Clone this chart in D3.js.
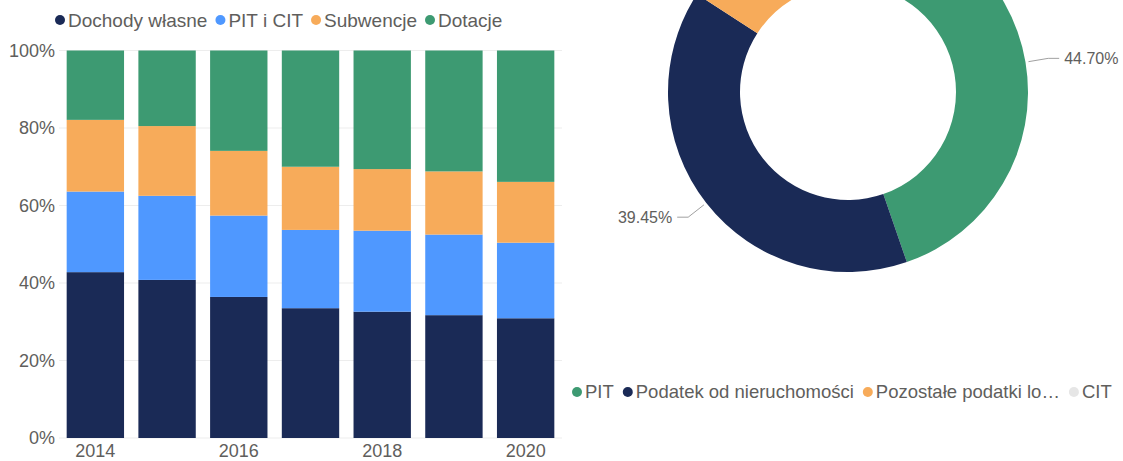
<!DOCTYPE html>
<html>
<head>
<meta charset="utf-8">
<script src="https://cdn.jsdelivr.net/npm/d3@7"></script>
<style>
    body { margin: 0; background: #fff; }
    svg { display: block; font-family: "Liberation Sans", Arial, sans-serif; }
</style>
</head>
<body>
<svg id="chart" width="1123" height="461"></svg>
<script>
// stacked bar data (share of budget income, %)
const years = ["2014", "2015", "2016", "2017", "2018", "2019", "2020"];
const yearTicks = ["2014", "2016", "2018", "2020"];
const barSeries = ["Dochody własne", "PIT i CIT", "Subwencje", "Dotacje"];
const dochodyWlasne = [42.8, 40.8, 36.4, 33.5, 32.6, 31.7, 30.9];
const pitCit = [20.8, 21.7, 21.0, 20.2, 20.9, 20.8, 19.5];
const subwencje = [18.5, 18.0, 16.7, 16.3, 15.9, 16.3, 15.7];
const dotacje = [17.9, 19.5, 25.9, 30.0, 30.6, 31.2, 33.9];
const yTicks = [0, 20, 40, 60, 80, 100];

// donut data (%)
const donutLabels = ["PIT", "Podatek od nieruchomości", "Pozostałe podatki lokalne", "CIT"];
const donutValues = [44.70, 39.45, 14.91, 0.94];

const barColors = ["#1A2A56", "#4F98FF", "#F7AB5A", "#3D9A72"];
const donutColors = ["#3D9A72", "#1A2A56", "#F7AB5A", "#E6E6E6"];
const textColor = "#605E5C";

const svg = d3.select("#chart");

// ---------- stacked bars ----------
const rows = years.map((y, i) => ({
    year: y,
    "Dochody własne": dochodyWlasne[i],
    "PIT i CIT": pitCit[i],
    "Subwencje": subwencje[i],
    "Dotacje": dotacje[i]
}));

const x = d3.scaleBand().domain(years).range([59.5, 561.5]).paddingInner(0.2).paddingOuter(0.1);
const y = d3.scaleLinear().domain([0, 100]).range([438, 50.5]);

// gridlines
svg.append("g")
    .selectAll("line")
    .data(yTicks)
    .join("line")
    .attr("x1", 59).attr("x2", 562)
    .attr("y1", d => y(d)).attr("y2", d => y(d))
    .attr("stroke", "#EDEDED").attr("stroke-width", 1);

const stack = d3.stack().keys(barSeries);
svg.append("g")
    .selectAll("g")
    .data(stack(rows))
    .join("g")
    .attr("fill", (d, i) => barColors[i])
    .selectAll("rect")
    .data(d => d)
    .join("rect")
    .attr("x", d => x(d.data.year))
    .attr("width", x.bandwidth())
    .attr("y", d => y(d[1]))
    .attr("height", d => y(d[0]) - y(d[1]));

// y axis
const yAxis = svg.append("g")
    .attr("transform", "translate(59,0)")
    .call(d3.axisLeft(y).tickValues(yTicks).tickFormat(d => d + "%").tickSize(0).tickPadding(4));
yAxis.select(".domain").remove();
yAxis.selectAll("text").attr("fill", textColor).attr("font-size", 18).attr("font-family", null);

// x axis
const xAxis = svg.append("g")
    .attr("transform", "translate(0,438)")
    .call(d3.axisBottom(x).tickValues(yearTicks).tickSize(0).tickPadding(6));
xAxis.select(".domain").remove();
xAxis.selectAll("text").attr("fill", textColor).attr("font-size", 18).attr("font-family", null);

// legend: dot + text, items laid out left to right
function drawLegend(g, labels, colors, startX, cy, size, gap, maxW) {
    let cx = startX;
    labels.forEach((lab, i) => {
        g.append("circle").attr("cx", cx).attr("cy", cy).attr("r", 5).attr("fill", colors[i]);
        const t = g.append("text")
            .attr("x", cx + 8).attr("y", cy).attr("dy", "0.35em")
            .attr("font-size", size).attr("fill", textColor)
            .text(lab);
        const lim = maxW ? maxW[i] : null;
        if (lim && t.node().getComputedTextLength() > lim) {
            let s = lab;
            while (s.length > 1 && t.node().getComputedTextLength() > lim) {
                s = s.slice(0, -1);
                t.text(s.trimEnd() + "…");
            }
        }
        cx += 8 + t.node().getComputedTextLength() + gap;
    });
}
drawLegend(svg.append("g"), barSeries, barColors, 60, 20, 19, 13);

// ---------- donut ----------
const cx = 848, cy = 92, R = 180, r = 108;
const pie = d3.pie().sort(null).value(d => d);
const arcs = pie(donutValues);
const arc = d3.arc().innerRadius(r).outerRadius(R);
const dg = svg.append("g").attr("transform", `translate(${cx},${cy})`);

dg.selectAll("path")
    .data(arcs)
    .join("path")
    .attr("d", arc)
    .attr("fill", (d, i) => donutColors[i]);

// leader lines and labels (only those that land inside the visible area)
arcs.forEach((a, i) => {
    const mid = (a.startAngle + a.endAngle) / 2;
    const sx = Math.sin(mid), sy = -Math.cos(mid);
    const p0 = [sx * (R + 3), sy * (R + 3)];
    const p1 = [sx * (R + 23), sy * (R + 23)];
    if (cy + p1[1] < 10) return;
    const side = sx >= 0 ? 1 : -1;
    const p2 = [p1[0] + side * 11, p1[1]];
    dg.append("polyline")
        .attr("points", [p0, p1, p2].map(p => p.join(",")).join(" "))
        .attr("fill", "none").attr("stroke", "#A0A0A0").attr("stroke-width", 1);
    dg.append("text")
        .attr("x", p2[0] + side * 5).attr("y", p2[1]).attr("dy", "0.35em")
        .attr("text-anchor", side > 0 ? "start" : "end")
        .attr("font-size", 16).attr("fill", textColor)
        .text(donutValues[i].toFixed(2) + "%");
});

drawLegend(svg.append("g"), donutLabels, donutColors, 577, 392, 18.5, 14, [null, null, 188, null]);
</script>
</body>
</html>
